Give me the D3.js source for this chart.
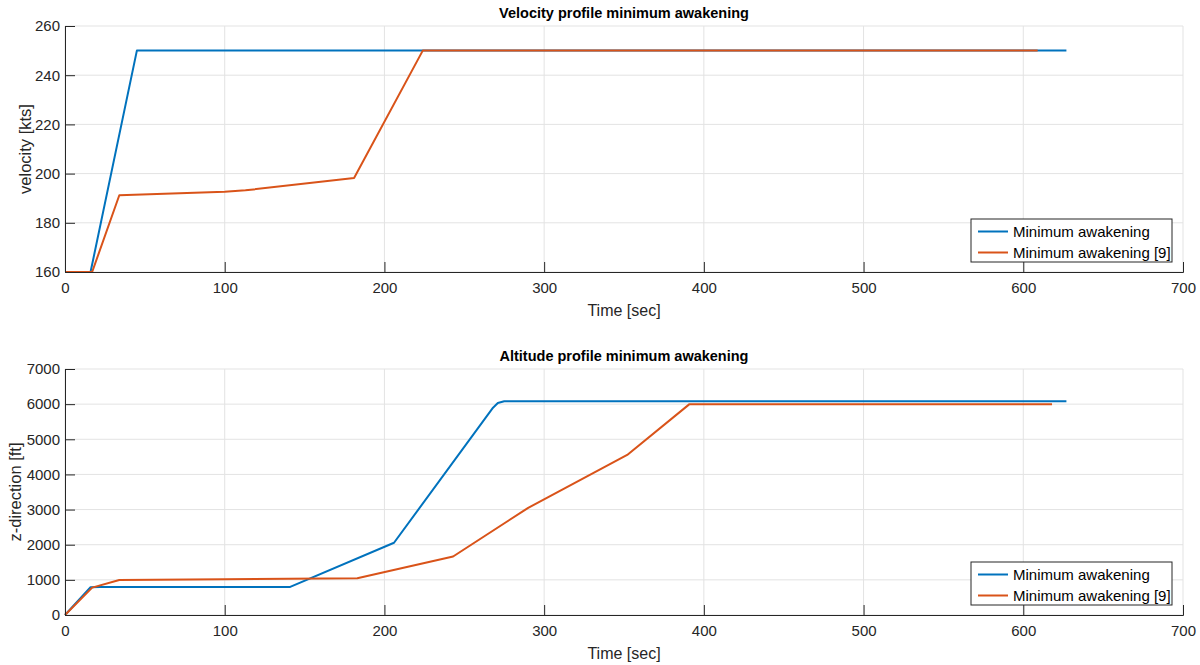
<!DOCTYPE html>
<html>
<head>
<meta charset="utf-8">
<script src="https://cdn.jsdelivr.net/npm/d3@7"></script>
<style>
  body { margin: 0; background: #fff; }
  text { font-family: "Liberation Sans", Arial, sans-serif; }
</style>
</head>
<body>
<svg id="chart" width="1200" height="665"></svg>
<script>
// time [sec] / value pairs
var velBlueT = [0, 16, 45, 627];
var velBlueV = [160, 160, 250, 250];
var velOrangeT = [0, 17, 34, 100, 113, 181, 224, 609];
var velOrangeV = [160, 160, 191.2, 192.6, 193.2, 198.2, 250, 250];

var altBlueT = [0, 16, 22, 141, 206, 268, 271, 275, 627];
var altBlueV = [0, 790, 795, 800, 2055, 5900, 6030, 6080, 6080];
var altOrangeT = [0, 17, 34, 100, 183, 243, 290, 352, 391, 618];
var altOrangeV = [0, 780, 995, 1020, 1045, 1665, 3050, 4555, 6000, 6000];

var xTicks = [0, 100, 200, 300, 400, 500, 600, 700];
var velTicks = [160, 180, 200, 220, 240, 260];
var altTicks = [0, 1000, 2000, 3000, 4000, 5000, 6000, 7000];
var seriesNames = ["Minimum awakening", "Minimum awakening [9]"];
var colors = ["#0072BD", "#D95319"];

var svg = d3.select("#chart");

function zip(t, v) { return t.map(function(d, i) { return [d, v[i]]; }); }

function panel(opt) {
  var g = svg.append("g");
  var x = d3.scaleLinear().domain([0, 700]).range([65, 1183]);
  var y = d3.scaleLinear().domain(opt.yDomain).range([opt.bottom, opt.top]);

  // grid
  g.selectAll(".gx").data(xTicks).enter().append("line")
    .attr("x1", function(d) { return x(d); }).attr("x2", function(d) { return x(d); })
    .attr("y1", opt.top).attr("y2", opt.bottom)
    .attr("stroke", "#e3e3e3").attr("stroke-width", 1);
  g.selectAll(".gy").data(opt.yTicks).enter().append("line")
    .attr("x1", 65).attr("x2", 1183)
    .attr("y1", function(d) { return y(d); }).attr("y2", function(d) { return y(d); })
    .attr("stroke", "#e3e3e3").attr("stroke-width", 1);

  var line = d3.line().x(function(d) { return x(d[0]); }).y(function(d) { return y(d[1]); });
  opt.series.forEach(function(s, i) {
    g.append("path").datum(s)
      .attr("fill", "none")
      .attr("stroke", colors[i])
      .attr("stroke-width", 2)
      .attr("stroke-linejoin", "round")
      .attr("d", line);
  });

  // axes (ticks inward, like MATLAB)
  var xAxis = d3.axisBottom(x).tickValues(xTicks).tickSize(-10).tickFormat(d3.format("d"));
  var yAxis = d3.axisLeft(y).tickValues(opt.yTicks).tickSize(-10).tickFormat(d3.format("d"));
  var gx = g.append("g").attr("transform", "translate(0," + opt.bottom + ")").call(xAxis);
  var gy = g.append("g").attr("transform", "translate(65,0)").call(yAxis);
  [gx, gy].forEach(function(a) {
    a.attr("font-size", 15).attr("font-family", "'Liberation Sans', Arial, sans-serif");
    a.select(".domain").attr("stroke", "#262626");
    a.selectAll(".tick line").attr("stroke", "#262626");
    a.selectAll(".tick text").attr("fill", "#262626");
  });
  gx.selectAll(".tick text").attr("dy", "0.71em").attr("y", 10);
  gy.selectAll(".tick text").attr("x", -5);

  g.append("text").attr("x", 624).attr("y", opt.top - 8)
    .attr("text-anchor", "middle").attr("font-weight", "bold")
    .attr("font-size", 14.5).attr("fill", "#000").text(opt.title);
  g.append("text").attr("x", 624).attr("y", opt.bottom + 44)
    .attr("text-anchor", "middle").attr("font-size", 16).attr("fill", "#262626").text("Time [sec]");
  g.append("text")
    .attr("transform", "translate(" + opt.labelX + "," + ((opt.top + opt.bottom) / 2) + ") rotate(-90)")
    .attr("text-anchor", "middle").attr("font-size", 16.5).attr("fill", "#262626").text(opt.yLabel);

  // legend
  var lg = g.append("g").attr("transform", "translate(971," + opt.legendTop + ")");
  lg.append("rect").attr("width", 201).attr("height", 43)
    .attr("fill", "#fff").attr("stroke", "#262626").attr("stroke-width", 1);
  seriesNames.forEach(function(n, i) {
    var yy = 12.5 + i * 21;
    lg.append("line").attr("x1", 7).attr("x2", 37).attr("y1", yy).attr("y2", yy)
      .attr("stroke", colors[i]).attr("stroke-width", 2);
    lg.append("text").attr("x", 42).attr("y", yy + 5).attr("font-size", 15)
      .attr("fill", "#000").text(n);
  });
}

panel({
  top: 26, bottom: 272, yDomain: [160, 260], yTicks: velTicks,
  title: "Velocity profile minimum awakening", yLabel: "velocity [kts]",
  legendTop: 219, labelX: 31,
  series: [zip(velBlueT, velBlueV), zip(velOrangeT, velOrangeV)]
});
panel({
  top: 369, bottom: 615, yDomain: [0, 7000], yTicks: altTicks,
  title: "Altitude profile minimum awakening", yLabel: "z-direction [ft]",
  legendTop: 562, labelX: 21,
  series: [zip(altBlueT, altBlueV), zip(altOrangeT, altOrangeV)]
});
</script>
</body>
</html>
